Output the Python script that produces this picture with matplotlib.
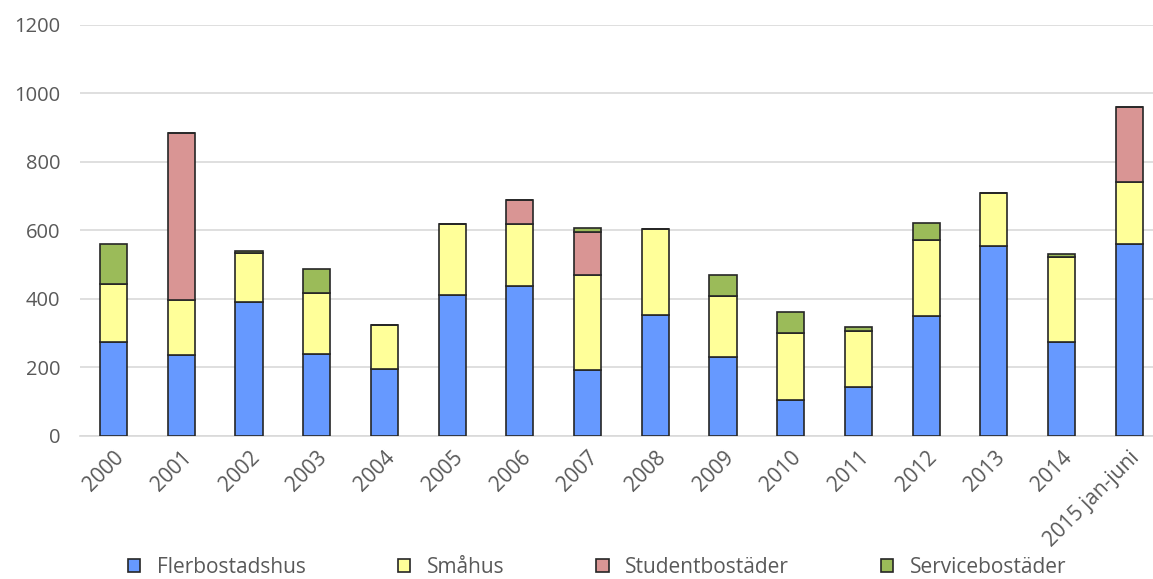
import numpy as np
import matplotlib
matplotlib.use("Agg")
import matplotlib.pyplot as plt

# Data
years = ["2000", "2001", "2002", "2003", "2004", "2005", "2006", "2007",
         "2008", "2009", "2010", "2011", "2012", "2013", "2014", "2015 jan-juni"]
flerbostadshus = [275, 237, 392, 240, 196, 412, 439, 193, 354, 231, 105, 143, 351, 556, 275, 561]
smahus         = [169, 161, 143, 178, 129, 208, 181, 278, 251, 178, 196, 164, 222, 152, 248, 179]
student        = [0, 485, 0, 0, 0, 0, 70, 125, 0, 0, 0, 0, 0, 0, 0, 219]
service        = [117, 0, 6, 70, 0, 0, 0, 12, 0, 62, 62, 12, 50, 0, 9, 0]

series = [("Flerbostadshus", flerbostadshus, "#6699ff"),
          ("Småhus", smahus, "#ffff99"),
          ("Studentbostäder", student, "#d99594"),
          ("Servicebostäder", service, "#9bbb59")]

plt.rcParams["font.family"] = ["Open Sans", "DejaVu Sans"]
text_col = "#595959"
fs = 14.5

fig = plt.figure(figsize=(11.53, 5.79), dpi=100)
ax = fig.add_axes([0.0694, 0.247, 0.9306, 0.710])

x = np.arange(len(years))
bottom = np.zeros(len(years))
for name, vals, col in series:
    vals = np.array(vals, dtype=float)
    ax.bar(x, vals, 0.4, bottom=bottom, color=col, edgecolor="#262626",
           linewidth=1.2, label=name, zorder=3)
    bottom += vals

ax.set_ylim(0, 1200)
ax.set_yticks(range(0, 1201, 200))
ax.set_xlim(-0.495, 15.35)
ax.set_xticks(x)
ax.set_xticklabels(years, rotation=45, ha="right", rotation_mode="anchor",
                   fontsize=15)
ax.tick_params(axis="both", length=0, colors=text_col)
ax.tick_params(axis="y", pad=14, labelsize=fs)
ax.tick_params(axis="x", pad=8)
ax.grid(axis="y", color="#d9d9d9", linewidth=1.2, zorder=0)
for s in ["top", "right", "left"]:
    ax.spines[s].set_visible(False)
ax.spines["bottom"].set_color("#d9d9d9")
ax.spines["bottom"].set_linewidth(1.2)

leg = fig.legend(loc="lower center", ncol=4, frameon=False, fontsize=15,
                 bbox_to_anchor=(0.518, -0.03), columnspacing=4.4,
                 handlelength=0.6, handleheight=0.6, handletextpad=0.8)
for t in leg.get_texts():
    t.set_color(text_col)

fig.savefig("out.png", dpi=100)
